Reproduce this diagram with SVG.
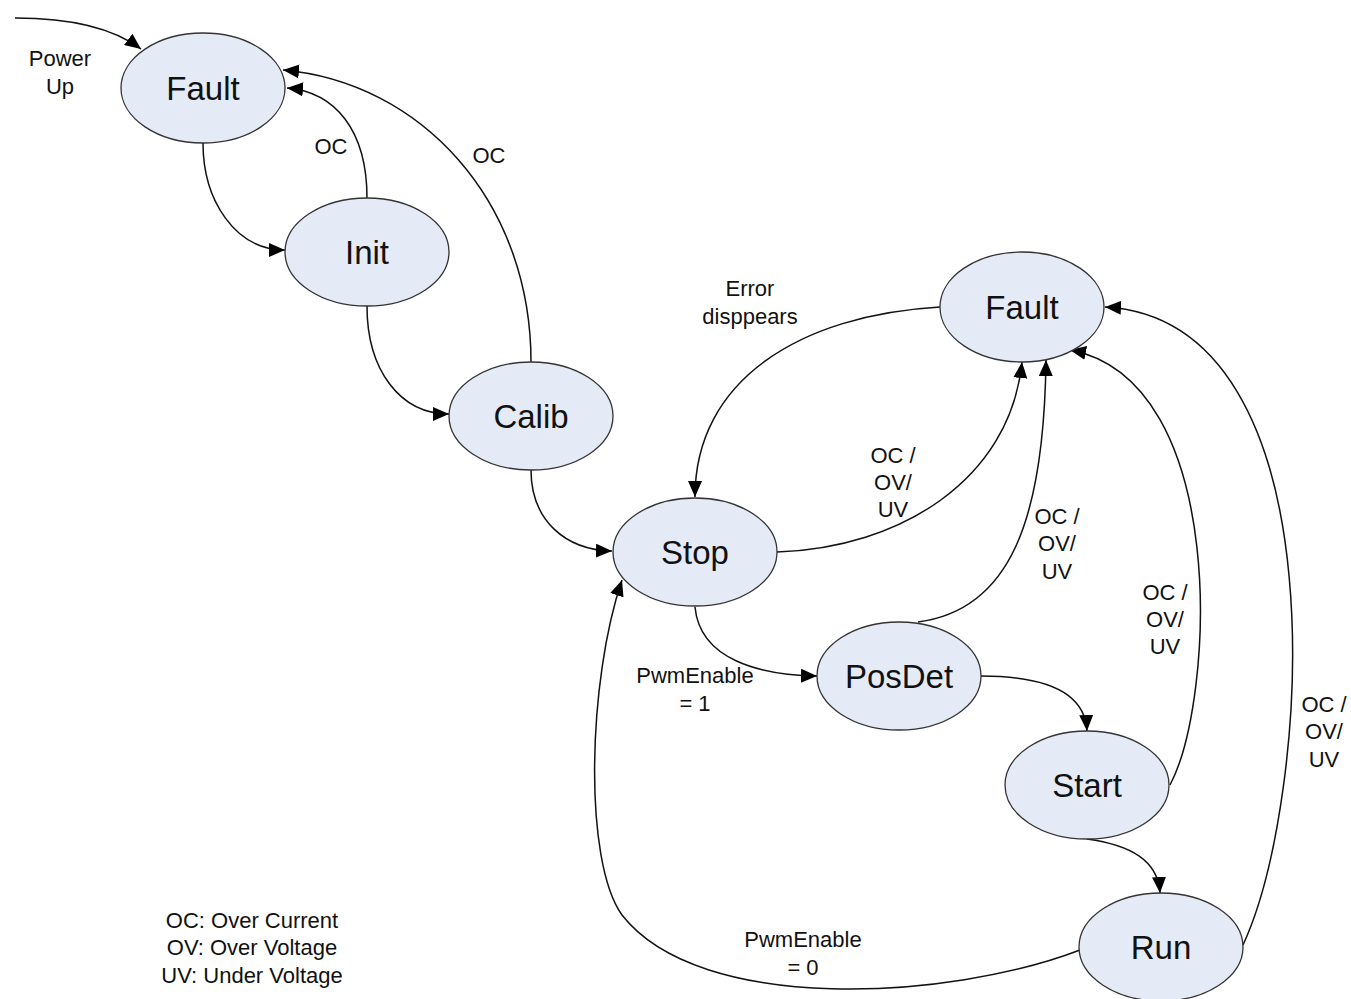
<svg xmlns="http://www.w3.org/2000/svg" width="1351" height="999" viewBox="0 0 1351 999">
<style>
.node ellipse{fill:#e5ebf6;stroke:#333;stroke-width:1.3}
.node text{font-family:"Liberation Sans",Arial,sans-serif;font-size:33px;fill:#111;text-anchor:middle;dominant-baseline:central}
.edges path{fill:none;stroke:#111;stroke-width:1.5;marker-end:url(#arr)}
.lbl{font-family:"Liberation Sans",Arial,sans-serif;font-size:22px;fill:#111;text-anchor:middle;dominant-baseline:central}
</style>
<defs>
<marker id="arr" markerUnits="userSpaceOnUse" markerWidth="18" markerHeight="14" refX="16" refY="7" orient="auto">
<path d="M0,0 L16,7 L0,14 Z" fill="#000"/>
</marker>
</defs>
<rect width="1351" height="999" fill="#fff"/>
<g class="edges">
<path d="M15,18 Q100,18 141,49"/>
<path d="M203,143 C203,200 235,250 285,250"/>
<path d="M367,198 C367,130 335,92 287,88"/>
<path d="M531,362 C531,200 420,82 283,70"/>
<path d="M367,306 C367,370 400,414 449,414"/>
<path d="M531,470 C531,520 565,550 612,551"/>
<path d="M940,307 C800,315 695,380 695,497"/>
<path d="M777,552 C900,548 1010,480 1022,362"/>
<path d="M918,622 C1010,610 1044,520 1046,360"/>
<path d="M1170,785 C1215,700 1230,380 1070,350"/>
<path d="M1243,945 C1310,800 1345,320 1105,307"/>
<path d="M695,607 C700,660 760,675 817,676"/>
<path d="M981,676 C1040,676 1085,690 1087,731"/>
<path d="M1087,839 C1130,845 1158,860 1160,893"/>
<path d="M1080,950 C950,1000 700,1015 622,915 C583,860 588,680 622,580"/>
</g>
<g id="fault1" class="node"><ellipse cx="203" cy="88" rx="82" ry="55"/><text x="203" y="88">Fault</text></g>
<g id="init" class="node"><ellipse cx="367" cy="252" rx="82" ry="54"/><text x="367" y="252">Init</text></g>
<g id="calib" class="node"><ellipse cx="531" cy="416" rx="82" ry="54"/><text x="531" y="416">Calib</text></g>
<g id="stop" class="node"><ellipse cx="695" cy="552" rx="82" ry="54"/><text x="695" y="552">Stop</text></g>
<g id="fault2" class="node"><ellipse cx="1022" cy="307" rx="82" ry="55"/><text x="1022" y="307">Fault</text></g>
<g id="posdet" class="node"><ellipse cx="899" cy="676" rx="82" ry="54"/><text x="899" y="676">PosDet</text></g>
<g id="start" class="node"><ellipse cx="1087" cy="785" rx="82" ry="54"/><text x="1087" y="785">Start</text></g>
<g id="run" class="node"><ellipse cx="1161" cy="947" rx="82" ry="54"/><text x="1161" y="947">Run</text></g>
<g id="labels">
<text class="lbl" x="60" y="58">Power</text><text class="lbl" x="60" y="86">Up</text>
<text class="lbl" x="331" y="146">OC</text>
<text class="lbl" x="489" y="155">OC</text>
<text class="lbl" x="750" y="288">Error</text><text class="lbl" x="750" y="316">disppears</text>
<text class="lbl" x="893" y="455">OC /</text><text class="lbl" x="893" y="482">OV/</text><text class="lbl" x="893" y="509">UV</text>
<text class="lbl" x="1057" y="516">OC /</text><text class="lbl" x="1057" y="543">OV/</text><text class="lbl" x="1057" y="571">UV</text>
<text class="lbl" x="1165" y="592">OC /</text><text class="lbl" x="1165" y="619">OV/</text><text class="lbl" x="1165" y="646">UV</text>
<text class="lbl" x="1324" y="704">OC /</text><text class="lbl" x="1324" y="731">OV/</text><text class="lbl" x="1324" y="759">UV</text>
<text class="lbl" x="695" y="675">PwmEnable</text><text class="lbl" x="695" y="703">= 1</text>
<text class="lbl" x="803" y="939">PwmEnable</text><text class="lbl" x="803" y="967">= 0</text>
<text class="lbl" x="252" y="920">OC: Over Current</text>
<text class="lbl" x="252" y="947">OV: Over Voltage</text>
<text class="lbl" x="252" y="975">UV: Under Voltage</text>
</g>
</svg>
